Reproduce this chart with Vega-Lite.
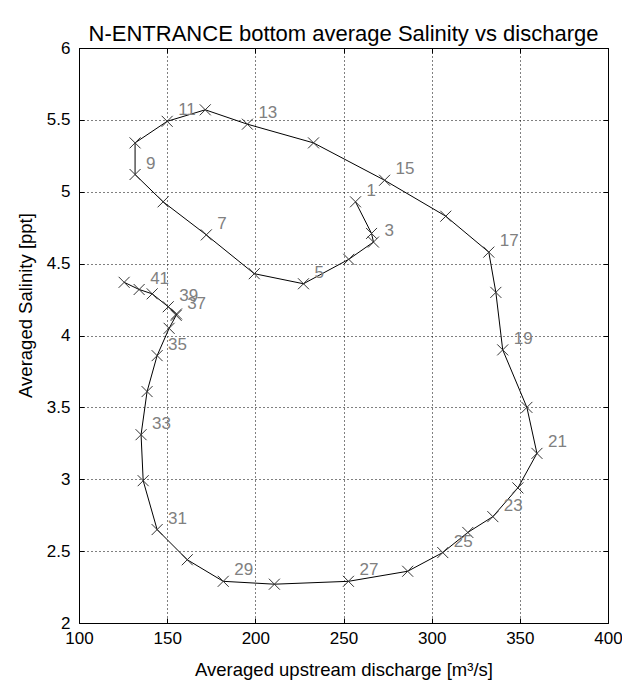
{
  "$schema": "https://vega.github.io/schema/vega-lite/v6.json",
  "width": 529,
  "height": 575,
  "autosize": "none",
  "padding": {"left": 79, "top": 48, "right": 14, "bottom": 57},
  "background": "white",
  "title": {"text": "N-ENTRANCE bottom average Salinity vs discharge", "fontSize": 22, "fontWeight": "normal", "font": "Liberation Sans", "color": "black", "offset": -7, "anchor": "middle"},
  "config": {
    "font": "Liberation Sans",
    "view": {"stroke": "black", "strokeWidth": 1},
    "axis": {
      "domain": false,
      "grid": true,
      "gridColor": "black",
      "gridOpacity": 1,
      "gridDash": [1, 3],
      "gridWidth": 1,
      "tickColor": "black",
      "tickSize": -5,
      "labelFont": "Liberation Sans",
      "labelFontSize": 17,
      "labelColor": "black",
      "titleFont": "Liberation Sans",
      "titleFontSize": 18.5,
      "titleFontWeight": "normal",
      "titleColor": "black"
    }
  },
  "resolve": {"axis": {"x": "independent", "y": "independent"}},
  "data": {"values": [
    {"n": 1, "x": 256.8, "y": 4.93},
    {"n": 2, "x": 265.9, "y": 4.71},
    {"n": 3, "x": 267.0, "y": 4.65},
    {"n": 4, "x": 253.0, "y": 4.53},
    {"n": 5, "x": 227.3, "y": 4.36},
    {"n": 6, "x": 199.4, "y": 4.43},
    {"n": 7, "x": 172.2, "y": 4.70},
    {"n": 8, "x": 147.7, "y": 4.93},
    {"n": 9, "x": 131.8, "y": 5.12},
    {"n": 10, "x": 131.8, "y": 5.34},
    {"n": 11, "x": 150.0, "y": 5.49},
    {"n": 12, "x": 171.6, "y": 5.57},
    {"n": 13, "x": 195.5, "y": 5.47},
    {"n": 14, "x": 233.0, "y": 5.34},
    {"n": 15, "x": 273.3, "y": 5.08},
    {"n": 16, "x": 308.0, "y": 4.83},
    {"n": 17, "x": 332.4, "y": 4.58},
    {"n": 18, "x": 336.4, "y": 4.30},
    {"n": 19, "x": 340.3, "y": 3.90},
    {"n": 20, "x": 354.0, "y": 3.50},
    {"n": 21, "x": 359.7, "y": 3.18},
    {"n": 22, "x": 348.9, "y": 2.94},
    {"n": 23, "x": 334.7, "y": 2.74},
    {"n": 24, "x": 320.5, "y": 2.63},
    {"n": 25, "x": 306.3, "y": 2.49},
    {"n": 26, "x": 286.4, "y": 2.36},
    {"n": 27, "x": 252.8, "y": 2.29},
    {"n": 28, "x": 210.8, "y": 2.27},
    {"n": 29, "x": 181.8, "y": 2.29},
    {"n": 30, "x": 161.4, "y": 2.44},
    {"n": 31, "x": 144.3, "y": 2.65},
    {"n": 32, "x": 136.4, "y": 2.99},
    {"n": 33, "x": 135.2, "y": 3.31},
    {"n": 34, "x": 138.6, "y": 3.61},
    {"n": 35, "x": 144.3, "y": 3.86},
    {"n": 36, "x": 151.1, "y": 4.05},
    {"n": 37, "x": 155.1, "y": 4.14},
    {"n": 38, "x": 155.3, "y": 4.15},
    {"n": 39, "x": 150.6, "y": 4.20},
    {"n": 40, "x": 141.5, "y": 4.29},
    {"n": 41, "x": 134.1, "y": 4.32},
    {"n": 42, "x": 125.6, "y": 4.37}
  ]},
  "layer": [
    {
      "mark": {"type": "line", "color": "black", "strokeWidth": 1},
      "encoding": {
        "x": {"field": "x", "type": "quantitative", "scale": {"domain": [100, 400], "nice": false, "zero": false},
              "axis": {"orient": "bottom", "values": [100, 150, 200, 250, 300, 350, 400], "title": "Averaged upstream discharge [m³/s]", "labelPadding": 12, "titleY": 46, "titleBaseline": "middle", "labelFlush": false}},
        "y": {"field": "y", "type": "quantitative", "scale": {"domain": [2, 6], "nice": false, "zero": false},
              "axis": {"orient": "left", "values": [2, 2.5, 3, 3.5, 4, 4.5, 5, 5.5, 6], "format": "~g", "title": "Averaged Salinity [ppt]", "labelPadding": 14, "titleX": -54, "titleY": 257, "titleBaseline": "middle", "titleAlign": "center", "labelFlush": false}},
        "order": {"field": "n", "type": "quantitative"}
      }
    },
    {
      "mark": {"type": "point", "shape": "M-1,-1L1,1M-1,1L1,-1", "size": 121, "color": "#333333", "strokeWidth": 1, "filled": false, "opacity": 1},
      "encoding": {
        "x": {"field": "x", "type": "quantitative", "axis": {"orient": "top", "values": [100, 150, 200, 250, 300, 350, 400], "labels": false, "grid": false, "title": null}},
        "y": {"field": "y", "type": "quantitative", "axis": {"orient": "right", "values": [2, 2.5, 3, 3.5, 4, 4.5, 5, 5.5, 6], "labels": false, "grid": false, "title": null}}
      }
    },
    {
      "transform": [{"filter": "datum.n % 2 == 1"}],
      "mark": {"type": "text", "dx": 11, "dy": -11, "align": "left", "baseline": "middle", "fontSize": 17, "color": "#808080", "font": "Liberation Sans"},
      "encoding": {
        "x": {"field": "x", "type": "quantitative", "axis": null},
        "y": {"field": "y", "type": "quantitative", "axis": null},
        "text": {"field": "n", "type": "quantitative"}
      }
    }
  ]
}
